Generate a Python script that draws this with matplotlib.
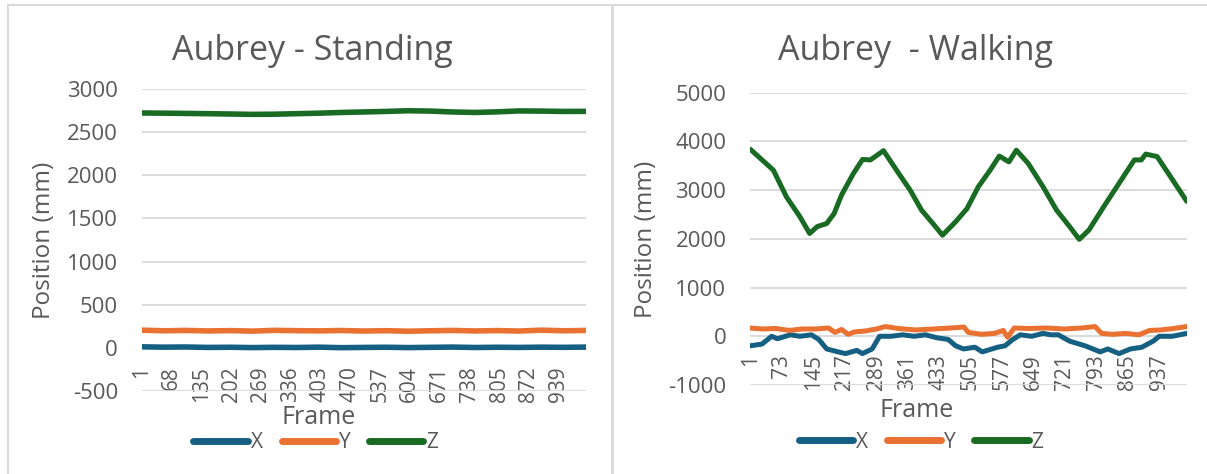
import matplotlib.pyplot as plt
from matplotlib.lines import Line2D

plt.rcParams['font.family'] = ['Open Sans', 'DejaVu Sans']
plt.rcParams['axes.unicode_minus'] = False

W, H = 1207, 474
TXT = '#595959'
GRID = '#d9d9d9'
C_X = '#156082'
C_Y = '#E97132'
C_Z = '#196B24'

# ---- Standing data ----
stand_frames = [1, 50, 100, 150, 200, 250, 300, 350, 400, 450, 500,
                550, 600, 650, 700, 750, 800, 850, 900, 950, 1000]
stand_x = [12, 8, 10, 5, 7, 3, 6, 4, 8, 2, 5, 7, 3, 6, 9, 4, 7, 5, 8, 6, 9]
stand_y = [205, 198, 202, 196, 200, 194, 203, 199, 197, 201, 195,
           199, 193, 198, 202, 196, 200, 195, 205, 198, 202]
stand_z = [2722, 2720, 2717, 2714, 2710, 2706, 2708, 2714, 2720, 2728, 2734,
           2740, 2748, 2744, 2734, 2728, 2735, 2746, 2744, 2740, 2741]
stand_ticks = [1, 68, 135, 202, 269, 336, 403, 470, 537, 604, 671, 738, 805, 872, 939]

# ---- Walking data ----
walk_z_frames = [1, 54, 84, 115, 137, 154, 176, 193, 210, 237, 258, 276, 306,
                 341, 367, 393, 419, 441, 471, 497, 523, 550, 571, 593, 610,
                 637, 671, 702, 732, 754, 776, 810, 845, 880, 896, 906, 932,
                 958, 1000]
walk_z = [3840, 3410, 2860, 2450, 2110, 2250, 2315, 2520, 2900, 3340, 3630,
          3620, 3810, 3340, 3000, 2590, 2315, 2075, 2350, 2620, 3070, 3410,
          3700, 3580, 3820, 3550, 3070, 2590, 2250, 1990, 2180, 2660, 3140,
          3620, 3620, 3740, 3690, 3340, 2770]

walk_x_frames = [1, 28, 50, 63, 93, 115, 141, 158, 176, 202, 219, 245, 258,
                 280, 297, 323, 350, 376, 402, 428, 454, 471, 489, 515, 532,
                 567, 584, 602, 619, 645, 671, 689, 706, 732, 767, 802, 819,
                 845, 871, 897, 923, 937, 967, 1000]
walk_x = [-195, -160, 0, -50, 30, 0, 30, -65, -260, -320, -355, -290, -355,
          -260, 0, 0, 30, 0, 30, -30, -65, -195, -260, -225, -320, -225,
          -195, -65, 30, 0, 60, 30, 30, -100, -195, -320, -260, -355, -260,
          -225, -100, 0, 0, 60]

walk_y_frames = [1, 30, 60, 90, 120, 150, 180, 195, 210, 225, 240, 265, 290,
                 310, 340, 380, 420, 460, 490, 500, 530, 560, 580, 590, 605,
                 640, 680, 720, 760, 790, 805, 830, 860, 890, 915, 940, 970, 1000]
walk_y = [170, 150, 160, 120, 150, 150, 170, 80, 140, 40, 90, 110, 150,
          200, 160, 130, 150, 170, 190, 80, 40, 60, 120, -20, 170,
          160, 170, 150, 170, 200, 60, 40, 60, 30, 120, 130, 160, 200]
walk_ticks = [1, 73, 145, 217, 289, 361, 433, 505, 577, 649, 721, 793, 865, 937]

fig = plt.figure(figsize=(W / 100, H / 100), dpi=100)

# panel borders
fig.add_artist(Line2D([8 / W, 8 / W], [0, 1 - 5 / H], color=GRID, lw=1.5))
fig.add_artist(Line2D([8 / W, 1], [1 - 5 / H, 1 - 5 / H], color=GRID, lw=1.5))
fig.add_artist(Line2D([612 / W, 612 / W], [0, 1 - 5 / H], color=GRID, lw=2))


def make_axes(px_left, px_right, px_top, px_bottom):
    return fig.add_axes([px_left / W, 1 - px_bottom / H,
                         (px_right - px_left) / W, (px_bottom - px_top) / H])


def style(ax, ticks, ylim, yticks):
    # category labels hang below the zero line, like Excel
    ax.spines['bottom'].set_position(('data', 0))
    ax.spines['bottom'].set_visible(False)
    for s in ['top', 'right', 'left']:
        ax.spines[s].set_visible(False)
    ax.set_xlim(0.5, 1000.5)
    ax.set_ylim(*ylim)
    ax.set_yticks(yticks)
    ax.set_xticks(ticks)
    ax.set_xticklabels([str(t) for t in ticks])
    ax.grid(axis='y', color=GRID, lw=1.3)
    ax.set_axisbelow(True)
    ax.tick_params(axis='x', length=0, pad=13, labelsize=15, labelcolor=TXT,
                   labelrotation=90)
    ax.tick_params(axis='y', length=0, pad=17, labelsize=16, labelcolor=TXT)
    for lab in ax.get_xticklabels():
        lab.set_va('top')
        lab.set_ha('center')


# ---- left: standing ----
ax1 = make_axes(141.5, 586, 89, 391)
ax1.plot(stand_frames, stand_x, color=C_X, lw=4, solid_capstyle='round')
ax1.plot(stand_frames, stand_y, color=C_Y, lw=4, solid_capstyle='round')
ax1.plot(stand_frames, stand_z, color=C_Z, lw=4, solid_capstyle='round')
style(ax1, stand_ticks, (-500, 3000), range(-500, 3001, 500))

# ---- right: walking ----
ax2 = make_axes(750, 1187, 92.7, 385)
ax2.plot(walk_x_frames, walk_x, color=C_X, lw=3.6, solid_capstyle='round')
ax2.plot(walk_y_frames, walk_y, color=C_Y, lw=3.6, solid_capstyle='round')
ax2.plot(walk_z_frames, walk_z, color=C_Z, lw=3.6, solid_capstyle='round')
style(ax2, walk_ticks, (-1000, 5000), range(-1000, 5001, 1000))

# titles, axis labels, legends
fig.text(312 / W, 1 - 60 / H, 'Aubrey - Standing', ha='center', va='baseline',
         fontsize=24.5, color=TXT)
fig.text(915 / W, 1 - 60 / H, 'Aubrey  - Walking', ha='center', va='baseline',
         fontsize=24.5, color=TXT)
fig.text(319 / W, 1 - 424 / H, 'Frame', ha='center', va='baseline', fontsize=18, color=TXT)
fig.text(917 / W, 1 - 417 / H, 'Frame', ha='center', va='baseline', fontsize=18, color=TXT)
fig.text(44 / W, 1 - 240 / H, 'Position (mm)', rotation=90, ha='center', va='center',
         fontsize=17.5, color=TXT)
fig.text(646 / W, 1 - 239 / H, 'Position (mm)', rotation=90, ha='center', va='center',
         fontsize=17.5, color=TXT)

handles = [Line2D([], [], color=c, lw=5, solid_capstyle='round') for c in (C_X, C_Y, C_Z)]
for cx, cy in [(316, 443), (921, 442)]:
    fig.legend(handles, ['X', 'Y', 'Z'], loc='center', ncol=3,
               bbox_to_anchor=(cx / W, 1 - cy / H), frameon=False,
               fontsize=15, handlelength=2.6, handletextpad=0.15,
               columnspacing=0.9, labelcolor=TXT)

fig.savefig('out.png', dpi=100)
